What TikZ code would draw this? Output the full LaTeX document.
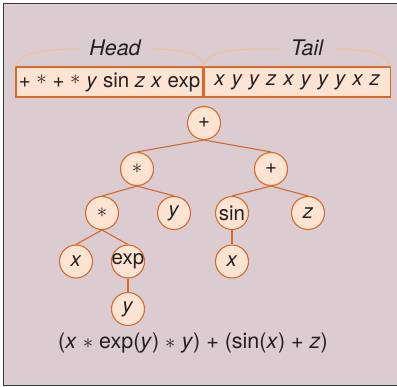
\documentclass[tikz,border=0pt]{standalone}
\usepackage{fontspec}
\setmainfont{TeX Gyre Heros}
\usepackage{tikz}
\usetikzlibrary{positioning}
\definecolor{panelBg}{HTML}{DBCCD1}
\definecolor{geneFill}{HTML}{FDE4D2}
\definecolor{geneLine}{HTML}{D36A2C}
\definecolor{braceLine}{HTML}{F3C08F}
\definecolor{frameLine}{HTML}{3A3A3C}
\definecolor{inkText}{HTML}{231F20}

\begin{document}
\begin{tikzpicture}[x=1pt,y=-1pt,
 gene/.style={circle,draw=geneLine,fill=geneFill,line width=1.1pt,
 minimum size=33pt,inner sep=0pt,text=inkText,font=\fontsize{20.5}{22}\selectfont},
 part/.style={rectangle,draw=geneLine,fill=geneFill,line width=1.1pt,
 minimum height=30pt,inner sep=0pt,text=inkText,font=\fontsize{20.5}{22}\selectfont},
 link/.style={draw=geneLine,line width=1.1pt},
 brace/.style={draw=braceLine,line width=0.9pt},
 region/.style={fill=panelBg,inner xsep=10pt,inner ysep=1pt,text=inkText,
 font=\fontsize{21.5}{23}\selectfont\itshape}]
\useasboundingbox (0,0) rectangle (397,387);
\draw[frameLine,line width=1.5pt,fill=panelBg] (3.5,3.5) rectangle (402,385.5);

% chromosome: head and tail
\node[part,minimum width=187pt] (head) at (109.5,82)
 {+ \raisebox{0.12em}{$\ast$} + \raisebox{0.12em}{$\ast$} \textit{y} sin \textit{z} \textit{x} exp};
\node[part,minimum width=186pt,right=0pt of head] (tail)
 {\spaceskip=7pt\textit{x y y z x y y y x z}};
\draw[brace] (head.north west) .. controls (18,54) and (40,49) .. (80,49) -- (150,49)
 .. controls (185,49) and (203,54) .. (head.north east);
\draw[brace] (tail.north west) .. controls (203,54) and (225,49) .. (262,49) -- (335,49)
 .. controls (370,49) and (388,54) .. (tail.north east);
\node[region] at (115,48) {Head};
\node[region] at (307,48) {Tail};

% expression tree
\node[gene] (root) at (204,123) {+};
\node[gene] (mulA) at (137,169) {$\ast$};
\node[gene] (add) at (271,169) {+};
\node[gene] (mulB) at (102,213) {$\ast$};
\node[gene] (yA) at (174,213) {\textit{y}};
\node[gene] (sin) at (232,213) {\makebox[0pt]{sin}};
\node[gene] (z) at (308,213) {\textit{z}};
\node[gene] (xA) at (76,261.5) {\textit{x}};
\node[gene] (exp) at (128,261.5) {\makebox[0pt]{exp}};
\node[gene] (xB) at (232,261.5) {\textit{x}};
\node[gene] (yB) at (128,309) {\textit{y}};
\foreach \a/\b in {root/mulA,root/add,mulA/mulB,mulA/yA,add/sin,add/z,
 mulB/xA,mulB/exp,sin/xB,exp/yB}
 \draw[link] (\a.south) -- (\b.north);

\node[text=inkText,font=\fontsize{21.5}{23}\selectfont] (expr) at (193,343)
 {(\textit{x} $\ast$ exp(\textit{y}) $\ast$ \textit{y}) + (sin(\textit{x}) + \textit{z})};
\end{tikzpicture}
\end{document}
